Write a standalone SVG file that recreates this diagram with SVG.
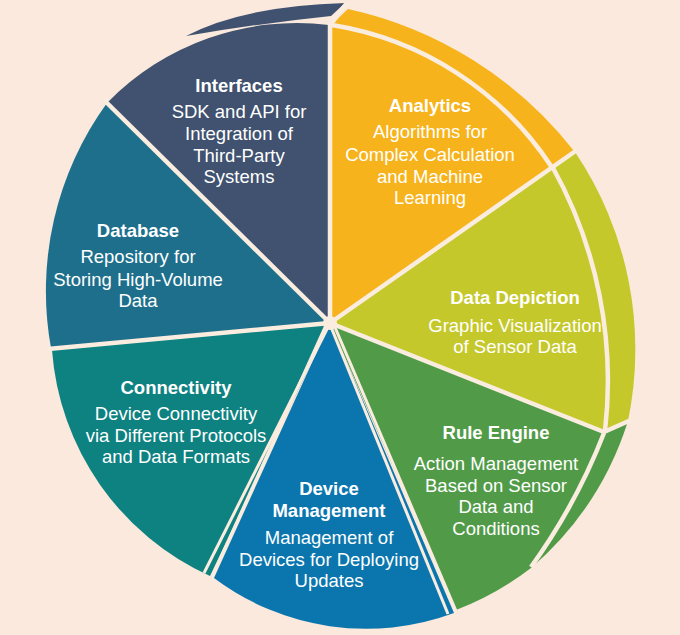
<svg xmlns="http://www.w3.org/2000/svg" width="680" height="635" viewBox="0 0 680 635">
<style>
.sep{fill:none;stroke:#faeddf;stroke-width:4.5;stroke-linejoin:round}
.sep3{fill:none;stroke:#faeddf;stroke-width:3}
.t{font-family:"Liberation Sans",Arial,Helvetica,sans-serif;fill:#ffffff;text-anchor:middle;font-size:18.5px}
.h{font-weight:bold;font-size:18.5px}
</style>
<rect width="680" height="635" fill="#fae9dc"/>
<g id="interfaces">
<path d="M330,323 L107,103 A265,265 0 0 1 329,25 Z" fill="#40526f"/>
<path d="M186,36 Q243,6 345,3 L331,16 Q255,24 186,36 Z" fill="#40526f"/>
<text class="t h" x="239" y="92">Interfaces</text>
<text class="t" x="239" y="118">SDK and API for</text>
<text class="t" x="239" y="140">Integration of</text>
<text class="t" x="239" y="162">Third-Party</text>
<text class="t" x="239" y="183">Systems</text>
</g>
<g id="analytics">
<path d="M330,323 L330,26 L348,9 A395,395 0 0 1 574,151 Z" fill="#f7b31b"/>
<text class="t h" x="430" y="112">Analytics</text>
<text class="t" x="430" y="138">Algorithms for</text>
<text class="t" x="430" y="161">Complex Calculation</text>
<text class="t" x="430" y="183">and Machine</text>
<text class="t" x="430" y="204">Learning</text>
</g>
<g id="data-depiction">
<path d="M330,323 L575,152 A353,353 0 0 1 628,421 L604,432 Z" fill="#c5c82b"/>
<text class="t h" x="515" y="304">Data Depiction</text>
<text class="t" x="515" y="332">Graphic Visualization</text>
<text class="t" x="515" y="353">of Sensor Data</text>
</g>
<g id="rule-engine">
<path d="M330,323 L604,432 L628,421 A322,322 0 0 1 531,568 A300,300 0 0 1 456,610 Z" fill="#519b48"/>
<text class="t h" x="496" y="439">Rule Engine</text>
<text class="t" x="496" y="470">Action Management</text>
<text class="t" x="496" y="492">Based on Sensor</text>
<text class="t" x="496" y="513">Data and</text>
<text class="t" x="496" y="535">Conditions</text>
</g>
<g id="device-management">
<path d="M330,323 L454,613 A253,253 0 0 1 214,578 Z" fill="#0b76ae"/>
<text class="t h" x="329" y="495">Device</text>
<text class="t h" x="329" y="517">Management</text>
<text class="t" x="329" y="544">Management of</text>
<text class="t" x="329" y="566">Devices for Deploying</text>
<text class="t" x="329" y="587">Updates</text>
</g>
<g id="connectivity">
<path d="M330,323 L210,576 A270,270 0 0 1 52,350 Z" fill="#0e8181"/>
<text class="t h" x="176" y="394">Connectivity</text>
<text class="t" x="176" y="420">Device Connectivity</text>
<text class="t" x="176" y="442">via Different Protocols</text>
<text class="t" x="176" y="463">and Data Formats</text>
</g>
<g id="database">
<path d="M330,323 L51,348 A320,320 0 0 1 107,103 Z" fill="#1e6f8c"/>
<text class="t h" x="138" y="237">Database</text>
<text class="t" x="138" y="263">Repository for</text>
<text class="t" x="138" y="286">Storing High-Volume</text>
<text class="t" x="138" y="307">Data</text>
</g>
<g id="connectors">
<polyline class="sep" points="330,323 330,25 347,3"/>
<line class="sep" x1="330" y1="323" x2="577" y2="150"/>
<polyline class="sep" points="330,323 604,432 631,420"/>
<line class="sep3" x1="331" y1="327" x2="448" y2="614"/>
<line class="sep3" x1="334" y1="325" x2="456" y2="611"/>
<line class="sep3" x1="328" y1="327" x2="204" y2="573"/>
<line class="sep3" x1="326" y1="325" x2="212" y2="577"/>
<line class="sep" x1="330" y1="323" x2="48" y2="349"/>
<line class="sep" x1="330" y1="323" x2="104" y2="100"/>
<path class="sep" d="M332,25 A324,324 0 0 1 551,166"/>
<path class="sep" d="M552,166 A440,440 0 0 1 605,431"/>
<path class="sep" d="M604,433 A600,600 0 0 1 531,567"/>
<circle cx="330" cy="323" r="7" fill="#faeddf"/>
</g>
</svg>
